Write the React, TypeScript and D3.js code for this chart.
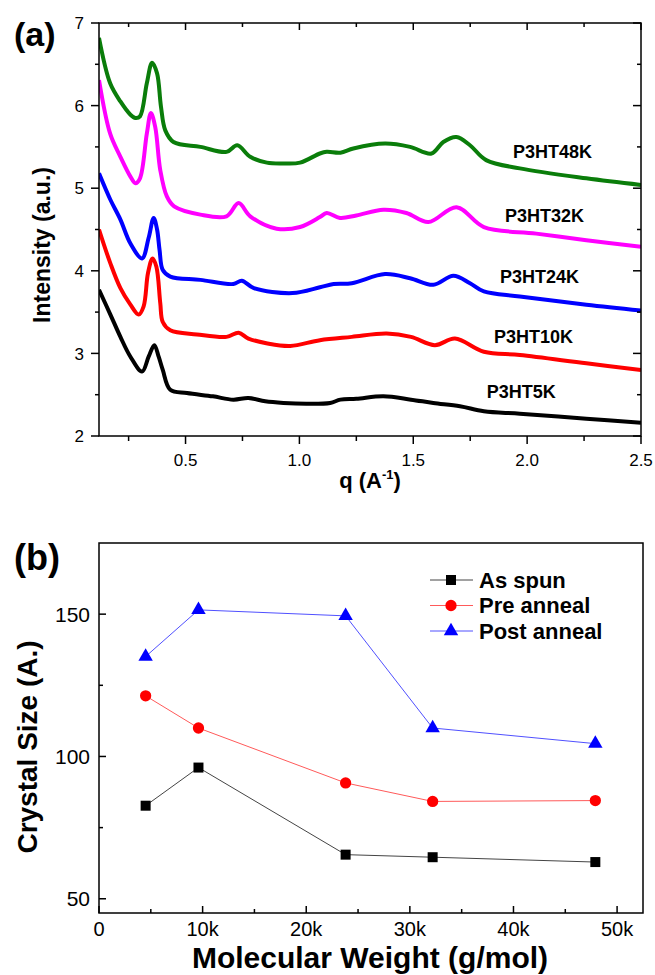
import React from 'react';
import * as d3 from 'd3';

// ---------- Panel (a) data ----------
const curveNames = ['P3HT5K', 'P3HT10K', 'P3HT24K', 'P3HT32K', 'P3HT48K'];
const curveColors = ['#000000', '#ff0000', '#0000ff', '#ff00ff', '#0a7d0a'];

const q5K = [0.12, 0.17, 0.214, 0.258, 0.309, 0.338, 0.363, 0.382, 0.40, 0.433, 0.506, 0.62, 0.71, 0.776, 0.85, 0.93, 1.03, 1.135, 1.18, 1.25, 1.369, 1.49, 1.588, 1.705, 1.81, 1.968, 2.26, 2.5];
const i5K = [3.77, 3.47, 3.20, 2.96, 2.78, 2.96, 3.10, 2.96, 2.80, 2.56, 2.52, 2.48, 2.44, 2.46, 2.42, 2.40, 2.39, 2.40, 2.44, 2.45, 2.48, 2.44, 2.40, 2.36, 2.30, 2.27, 2.21, 2.16];

const q10K = [0.12, 0.17, 0.214, 0.258, 0.294, 0.316, 0.335, 0.355, 0.372, 0.389, 0.40, 0.433, 0.55, 0.68, 0.733, 0.776, 0.86, 0.96, 1.09, 1.23, 1.383, 1.49, 1.595, 1.683, 1.81, 1.968, 2.26, 2.5];
const i10K = [4.50, 4.09, 3.79, 3.59, 3.47, 3.57, 3.97, 4.15, 4.05, 3.61, 3.38, 3.28, 3.23, 3.20, 3.25, 3.18, 3.12, 3.09, 3.16, 3.20, 3.24, 3.20, 3.10, 3.18, 3.02, 2.98, 2.88, 2.80];

const q24K = [0.12, 0.17, 0.214, 0.258, 0.309, 0.338, 0.36, 0.375, 0.386, 0.40, 0.433, 0.565, 0.71, 0.747, 0.80, 0.97, 1.09, 1.15, 1.23, 1.376, 1.486, 1.588, 1.676, 1.749, 1.81, 1.968, 2.26, 2.5];
const i24K = [5.18, 4.86, 4.62, 4.33, 4.15, 4.40, 4.64, 4.50, 4.25, 4.01, 3.93, 3.89, 3.84, 3.88, 3.79, 3.73, 3.80, 3.84, 3.85, 3.96, 3.91, 3.83, 3.94, 3.85, 3.75, 3.69, 3.59, 3.52];

const q32K = [0.12, 0.169, 0.214, 0.258, 0.28, 0.30, 0.33, 0.348, 0.367, 0.389, 0.418, 0.45, 0.565, 0.68, 0.733, 0.784, 0.90, 1.003, 1.09, 1.12, 1.178, 1.25, 1.369, 1.47, 1.566, 1.69, 1.81, 2.04, 2.26, 2.5];
const i32K = [6.31, 5.66, 5.38, 5.14, 5.06, 5.12, 5.66, 5.91, 5.74, 5.22, 4.90, 4.78, 4.68, 4.66, 4.82, 4.66, 4.51, 4.53, 4.65, 4.70, 4.64, 4.67, 4.74, 4.70, 4.59, 4.77, 4.53, 4.45, 4.37, 4.29];

const q48K = [0.12, 0.169, 0.214, 0.258, 0.28, 0.30, 0.33, 0.353, 0.375, 0.392, 0.411, 0.447, 0.565, 0.68, 0.727, 0.784, 0.857, 0.93, 1.003, 1.09, 1.12, 1.18, 1.237, 1.376, 1.486, 1.58, 1.632, 1.69, 1.749, 1.82, 1.968, 2.26, 2.5];
const i48K = [6.82, 6.27, 6.05, 5.89, 5.85, 5.87, 6.27, 6.52, 6.39, 5.99, 5.70, 5.56, 5.50, 5.44, 5.52, 5.38, 5.31, 5.30, 5.31, 5.42, 5.44, 5.43, 5.48, 5.54, 5.50, 5.42, 5.56, 5.62, 5.52, 5.34, 5.24, 5.12, 5.04];

const curveQ = [q5K, q10K, q24K, q32K, q48K];
const curveI = [i5K, i10K, i24K, i32K, i48K];
const curveLabelPos = [[486.7, 398], [494, 343], [500, 283], [505, 221.5], [513, 158]];

const qMajor = [0.5, 1.0, 1.5, 2.0, 2.5];
const qMinor = [0.25, 0.75, 1.25, 1.75, 2.25];
const iMajor = [2, 3, 4, 5, 6, 7];
const iMinor = [2.5, 3.5, 4.5, 5.5, 6.5];

// ---------- Panel (b) data ----------
const seriesNames = ['As spun', 'Pre anneal', 'Post anneal'];
const markerColors = ['#000000', '#ff0000', '#0000ff'];
const lineColors = ['#444444', '#ff5a5a', '#5050ff'];
const molWeight = [4500, 9600, 23800, 32200, 47900];
const asSpun = [82.7, 96.1, 65.5, 64.6, 62.9];
const preAnneal = [121.3, 110.0, 90.7, 84.2, 84.5];
const postAnneal = [135.1, 151.5, 149.4, 110.0, 104.5];
const seriesValues = [asSpun, preAnneal, postAnneal];

const mwMajor = [0, 10000, 20000, 30000, 40000, 50000];
const mwMinor = [5000, 15000, 25000, 35000, 45000];
const csMajor = [50, 100, 150];
const csMinor = [75, 125];

const FONT = '"Liberation Sans", Arial, sans-serif';

export default function App() {
  // Panel a scales
  const xA = d3.scaleLinear().domain([0.12, 2.5]).range([99, 641]);
  const yA = d3.scaleLinear().domain([2, 7]).range([436, 23]);
  const lineA = d3
    .line<[number, number]>()
    .x((d) => xA(d[0]))
    .y((d) => yA(d[1]))
    .curve(d3.curveCatmullRom.alpha(0.5));

  // Panel b scales
  const xB = d3.scaleLinear().domain([0, 52500]).range([99, 643]);
  const yB = d3.scaleLinear().domain([45, 175]).range([913, 543]);
  const lineB = d3
    .line<[number, number]>()
    .x((d) => xB(d[0]))
    .y((d) => yB(d[1]));

  const symbols = [
    d3.symbol().type(d3.symbolSquare).size(100)(),
    d3.symbol().type(d3.symbolCircle).size(100)(),
    d3.symbol().type(d3.symbolTriangle).size(90)(),
  ];

  const ax = { stroke: '#000', strokeWidth: 1.5 };

  return (
    <svg
      width={655}
      height={975}
      style={{ position: 'absolute', left: 0, top: 0, background: '#fff' }}
      fontFamily={FONT}
    >
      <rect x={0} y={0} width={655} height={975} fill="#fff" />
      {/* ================= Panel (a) ================= */}
      <text x={14} y={46} fontSize={34} fontWeight="bold">(a)</text>

      <defs>
        <clipPath id="clipA">
          <rect x={99} y={23} width={542} height={413} />
        </clipPath>
      </defs>
      {/* curves */}
      <g clipPath="url(#clipA)">
        {curveQ.map((qs, k) => (
          <path
            key={k}
            d={lineA(qs.map((q, j) => [q, curveI[k][j]] as [number, number])) || ''}
            fill="none"
            stroke={curveColors[k]}
            strokeWidth={4}
            strokeLinejoin="round"
          />
        ))}
      </g>

      {/* frame */}
      <rect x={99} y={23} width={542} height={413} fill="none" {...ax} />

      {/* x ticks: bottom outward, top inward */}
      {qMajor.map((v) => (
        <g key={'qM' + v}>
          <line x1={xA(v)} x2={xA(v)} y1={436} y2={444} {...ax} />
          <line x1={xA(v)} x2={xA(v)} y1={23} y2={30} {...ax} />
          <text x={xA(v)} y={466} fontSize={17} textAnchor="middle">{v.toFixed(1)}</text>
        </g>
      ))}
      {qMinor.map((v) => (
        <g key={'qm' + v}>
          <line x1={xA(v)} x2={xA(v)} y1={436} y2={441} {...ax} />
          <line x1={xA(v)} x2={xA(v)} y1={23} y2={27} {...ax} />
        </g>
      ))}
      {/* y ticks: left outward, right inward */}
      {iMajor.map((v) => (
        <g key={'iM' + v}>
          <line x1={91} x2={99} y1={yA(v)} y2={yA(v)} {...ax} />
          <line x1={633} x2={641} y1={yA(v)} y2={yA(v)} {...ax} />
          <text x={84} y={yA(v)} dy="0.36em" fontSize={17} textAnchor="end">{v}</text>
        </g>
      ))}
      {iMinor.map((v) => (
        <g key={'im' + v}>
          <line x1={95} x2={99} y1={yA(v)} y2={yA(v)} {...ax} />
          <line x1={637} x2={641} y1={yA(v)} y2={yA(v)} {...ax} />
        </g>
      ))}

      {/* curve labels */}
      {curveNames.map((n, k) => (
        <text key={n} x={curveLabelPos[k][0]} y={curveLabelPos[k][1]} fontSize={18} fontWeight="bold">{n}</text>
      ))}

      {/* axis titles */}
      <text
        transform={`translate(50,245) rotate(-90)`}
        fontSize={23}
        fontWeight="bold"
        textAnchor="middle"
      >
        Intensity (a.u.)
      </text>
      <text x={370} y={488} fontSize={22} fontWeight="bold" textAnchor="middle">
        q (A<tspan fontSize={13} dy={-9}>-1</tspan><tspan dy={9}>)</tspan>
      </text>

      {/* ================= Panel (b) ================= */}
      <text x={14} y={570} fontSize={36} fontWeight="bold">(b)</text>
      <rect x={99} y={543} width={544} height={370} fill="none" {...ax} />

      {mwMajor.map((v) => (
        <g key={'mM' + v}>
          <line x1={xB(v)} x2={xB(v)} y1={913} y2={906} {...ax} />
          <text x={xB(v)} y={936} fontSize={20} textAnchor="middle">
            {v === 0 ? '0' : `${v / 1000}k`}
          </text>
        </g>
      ))}
      {mwMinor.map((v) => (
        <line key={'mm' + v} x1={xB(v)} x2={xB(v)} y1={913} y2={909} {...ax} />
      ))}
      {csMajor.map((v) => (
        <g key={'cM' + v}>
          <line x1={99} x2={106} y1={yB(v)} y2={yB(v)} {...ax} />
          <text x={90} y={yB(v)} dy="0.36em" fontSize={21} textAnchor="end">{v}</text>
        </g>
      ))}
      {csMinor.map((v) => (
        <line key={'cm' + v} x1={99} x2={103} y1={yB(v)} y2={yB(v)} {...ax} />
      ))}

      {/* series */}
      {seriesValues.map((vals, k) => (
        <g key={'s' + k}>
          <path
            d={lineB(vals.map((v, j) => [molWeight[j], v] as [number, number])) || ''}
            fill="none"
            stroke={lineColors[k]}
            strokeWidth={1}
          />
          {vals.map((v, j) => (
            <path
              key={j}
              d={symbols[k] || ''}
              transform={`translate(${xB(molWeight[j])},${yB(v)})`}
              fill={markerColors[k]}
            />
          ))}
        </g>
      ))}

      {/* legend */}
      {seriesNames.map((n, k) => {
        const y = 580 + k * 25.5;
        return (
          <g key={n}>
            <line x1={430} x2={473} y1={y} y2={y} stroke={lineColors[k]} strokeWidth={1} />
            <path d={symbols[k] || ''} transform={`translate(451,${y})`} fill={markerColors[k]} />
            <text x={479} y={y} dy="0.36em" fontSize={22} fontWeight="bold">{n}</text>
          </g>
        );
      })}

      {/* axis titles */}
      <text
        transform={`translate(37,747) rotate(-90)`}
        fontSize={28}
        fontWeight="bold"
        textAnchor="middle"
      >
        Crystal Size (A.)
      </text>
      <text x={370} y={968} fontSize={30} fontWeight="bold" textAnchor="middle">
        Molecular Weight (g/mol)
      </text>
    </svg>
  );
}
